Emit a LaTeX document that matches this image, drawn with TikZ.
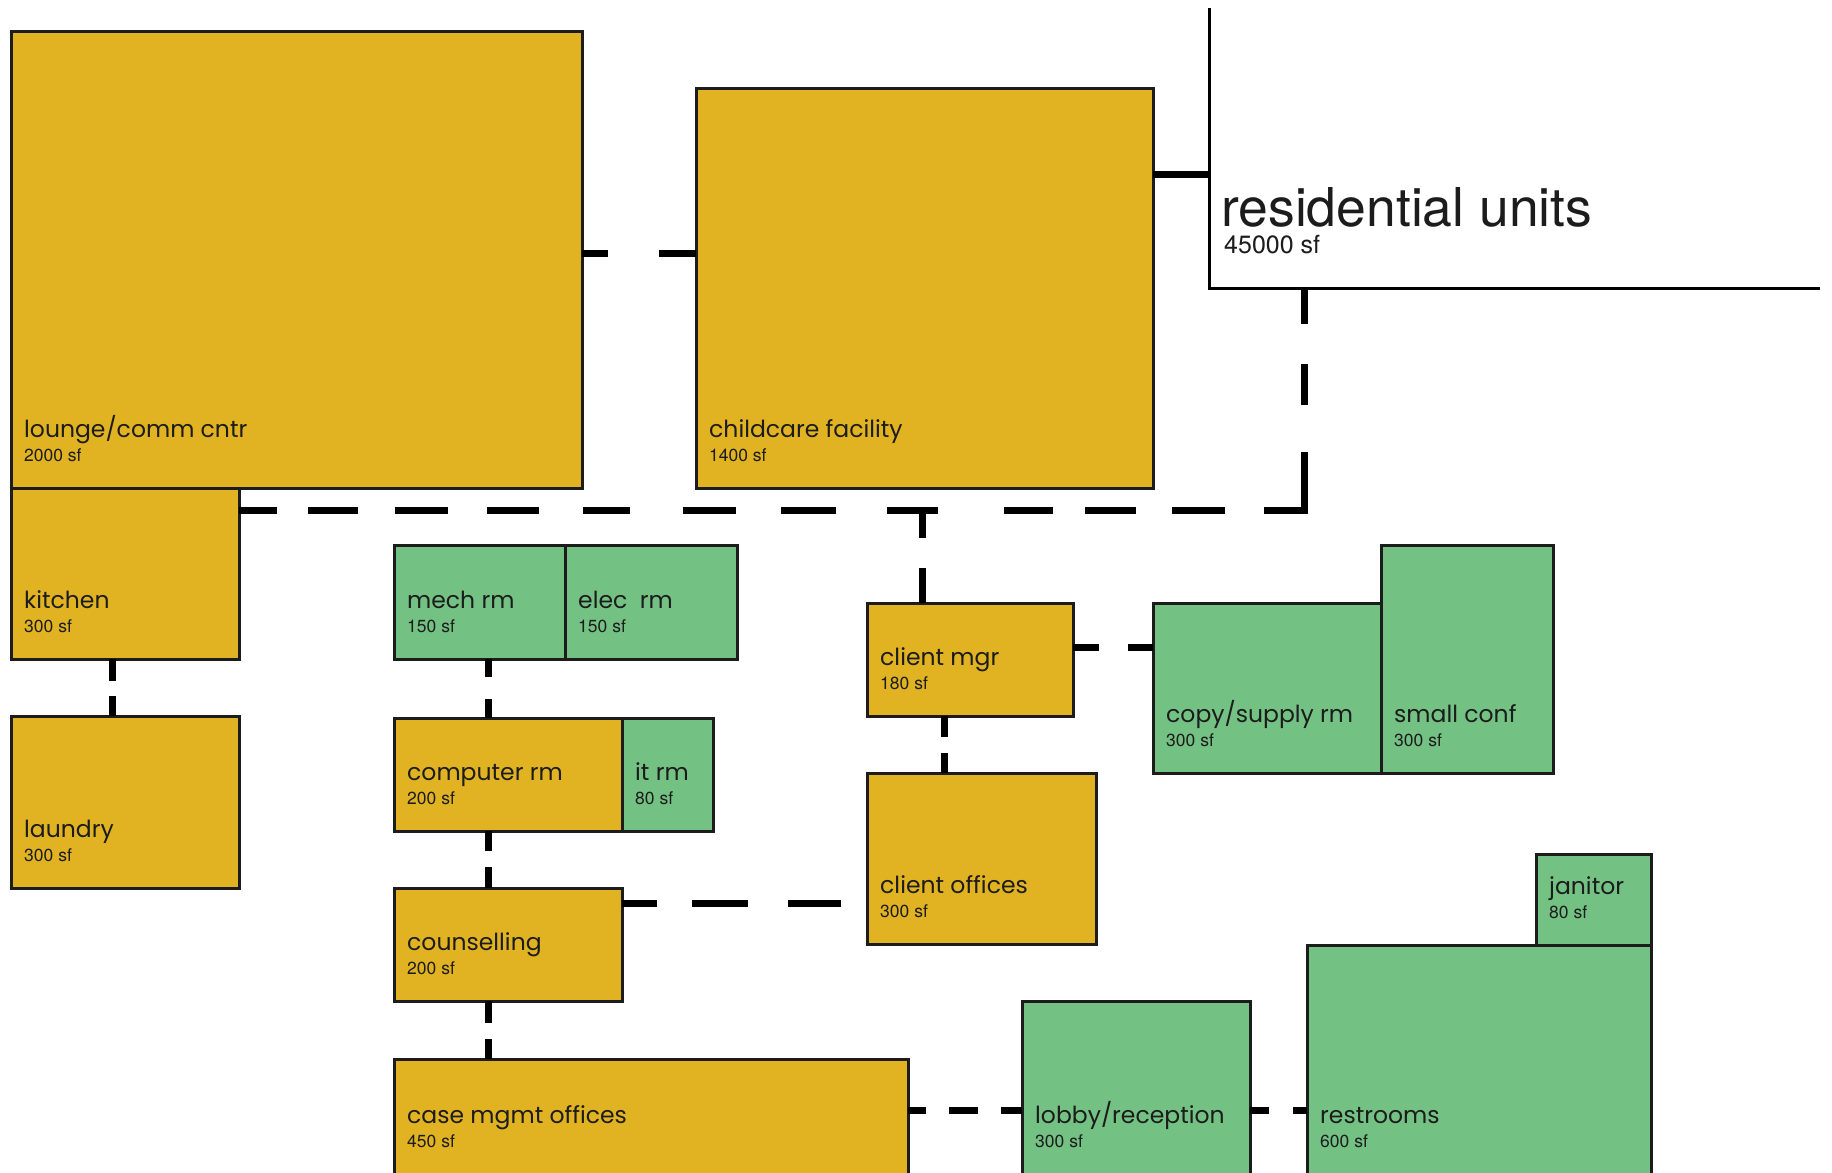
\documentclass[tikz,border=0pt]{standalone}
\usepackage{fontspec}
\setmainfont{TeX Gyre Heros}
\newfontfamily\roomfont{Poppins}
\usetikzlibrary{fit}
\definecolor{roomyellow}{HTML}{E1B322}
\definecolor{roomgreen}{HTML}{74C184}
\definecolor{inkdark}{HTML}{1C1C1C}
\tikzset{
  room/.style={draw=inkdark, line width=3pt, inner sep=0pt, outer sep=0pt},
  yroom/.style={room, fill=roomyellow},
  groom/.style={room, fill=roomgreen},
  rname/.style={anchor=base west, inner sep=0pt, text=inkdark, font=\roomfont\fontsize{23.5}{23.5}\selectfont},
  rarea/.style={anchor=base west, inner sep=0pt, text=inkdark, font=\fontsize{17.5}{17.5}\selectfont},
  conn/.style={line width=7pt, black},
  resline/.style={line width=3pt, black},
}
\newcommand\mkroom[8]{%
  \node[#1, fit={(#3,#4)(#5,#6)}] (#2) {};
  \node[rname] (#2-n) at ([shift={(13,-51)}]#2.south west) {#7};
  \node[rarea] (#2-a) at ([shift={(13,-27)}]#2.south west) {#8};}
\begin{document}
\begin{tikzpicture}[x=1pt,y=-1pt]
\useasboundingbox (0,0) rectangle (1832,1173);
\clip (0,0) rectangle (1832,1173);
\fill[white] (0,0) rectangle (1832,1173);

% helper coordinates
\coordinate (x112) at (112,0);
\coordinate (x488) at (488,0);
\coordinate (x922) at (922,0);
\coordinate (x944) at (944,0);
\coordinate (y174) at (0,174);
\coordinate (y253) at (0,253);
\coordinate (y647) at (0,647);
\coordinate (y903) at (0,903);
\coordinate (y1110) at (0,1110);

% residential units
\coordinate (resTop) at (1209,8);
\coordinate (resCorner) at (1209,288);
\coordinate (resEnd) at (1820,288);
\coordinate (resDrop) at (1304,288);
\coordinate (junc) at (1304,510);
\draw[resline] (resTop) -- (resCorner) -- (resEnd);
\node[anchor=base west, inner sep=0pt, text=inkdark, font=\fontsize{53.5}{53.5}\selectfont] (resN) at (1221,226) {residential units};
\node[anchor=base west, inner sep=0pt, text=inkdark, font=\fontsize{25}{25}\selectfont] (resA) at (1224,253) {45000 sf};

% rooms
\mkroom{yroom}{lounge}{11}{31}{582}{488}{lounge/comm cntr}{2000 sf}
\mkroom{yroom}{childcare}{696}{88}{1153}{488}{childcare facility}{1400 sf}
\mkroom{yroom}{kitchen}{11}{488}{239}{659}{kitchen}{300 sf}
\mkroom{yroom}{laundry}{11}{716}{239}{888}{laundry}{300 sf}
\mkroom{groom}{mech}{394}{545}{565}{659}{mech rm}{150 sf}
\mkroom{groom}{elec}{565}{545}{737}{659}{elec\ \ rm}{150 sf}
\mkroom{yroom}{computer}{394}{718}{622}{831}{computer rm}{200 sf}
\mkroom{groom}{itrm}{622}{718}{713}{831}{it rm}{80 sf}
\mkroom{yroom}{counsel}{394}{888}{622}{1001}{counselling}{200 sf}
\mkroom{yroom}{casemgmt}{394}{1059}{908}{1174}{case mgmt offices}{450 sf}
\mkroom{yroom}{mgr}{867}{603}{1073}{716}{client mgr}{180 sf}
\mkroom{yroom}{offices}{867}{773}{1096}{944}{client offices}{300 sf}
\mkroom{groom}{copy}{1153}{603}{1381}{773}{copy/supply rm}{300 sf}
\mkroom{groom}{conf}{1381}{545}{1553}{773}{small conf}{300 sf}
\mkroom{groom}{janitor}{1536}{854}{1651}{945}{janitor}{80 sf}
\mkroom{groom}{restrooms}{1307}{945}{1651}{1174}{restrooms}{600 sf}
\mkroom{groom}{lobby}{1022}{1001}{1250}{1174}{lobby/reception}{300 sf}

% connectors
\draw[conn, dash pattern=on 26pt off 51pt on 60pt] (lounge.east |- y253) -- (childcare.west |- y253);
\draw[conn] (childcare.east |- y174) -- (resCorner |- y174);
\draw[conn, dash pattern=on 36pt off 40pt on 41pt off 47pt on 98pt off 39pt on 53pt off 36pt on 51pt off 32pt on 49pt off 66pt on 51pt off 51pt on 55pt off 45pt on 53pt off 53pt on 47pt off 44pt on 52pt off 39pt on 53pt off 37pt on 50pt off 31pt on 60pt]
  (resDrop) -- (junc) -- (kitchen.east |- junc);
\draw[conn, dash pattern=on 35pt off 30pt on 50pt] (mgr.north -| x922) -- (junc -| x922);
\draw[conn, dash pattern=on 22pt off 15pt on 30pt] (kitchen.south -| x112) -- (laundry.north -| x112);
\draw[conn, dash pattern=on 18pt off 22pt on 30pt] (mech.south -| x488) -- (computer.north -| x488);
\draw[conn, dash pattern=on 20pt off 16pt on 30pt] (computer.south -| x488) -- (counsel.north -| x488);
\draw[conn, dash pattern=on 22pt off 16pt on 30pt] (counsel.south -| x488) -- (casemgmt.north -| x488);
\draw[conn, dash pattern=on 21pt off 16pt on 30pt] (mgr.south -| x944) -- (offices.north -| x944);
\draw[conn, dash pattern=on 26pt off 29pt on 40pt] (mgr.east |- y647) -- (copy.west |- y647);
\draw[conn, dash pattern=on 35pt off 35pt on 56pt off 40pt on 53pt off 100pt] (counsel.east |- y903) -- (offices.west |- y903);
\draw[conn, dash pattern=on 18pt off 23pt on 29pt off 23pt on 40pt] (casemgmt.east |- y1110) -- (lobby.west |- y1110);
\draw[conn, dash pattern=on 19pt off 24pt on 30pt] (lobby.east |- y1110) -- (restrooms.west |- y1110);
\end{tikzpicture}
\end{document}
